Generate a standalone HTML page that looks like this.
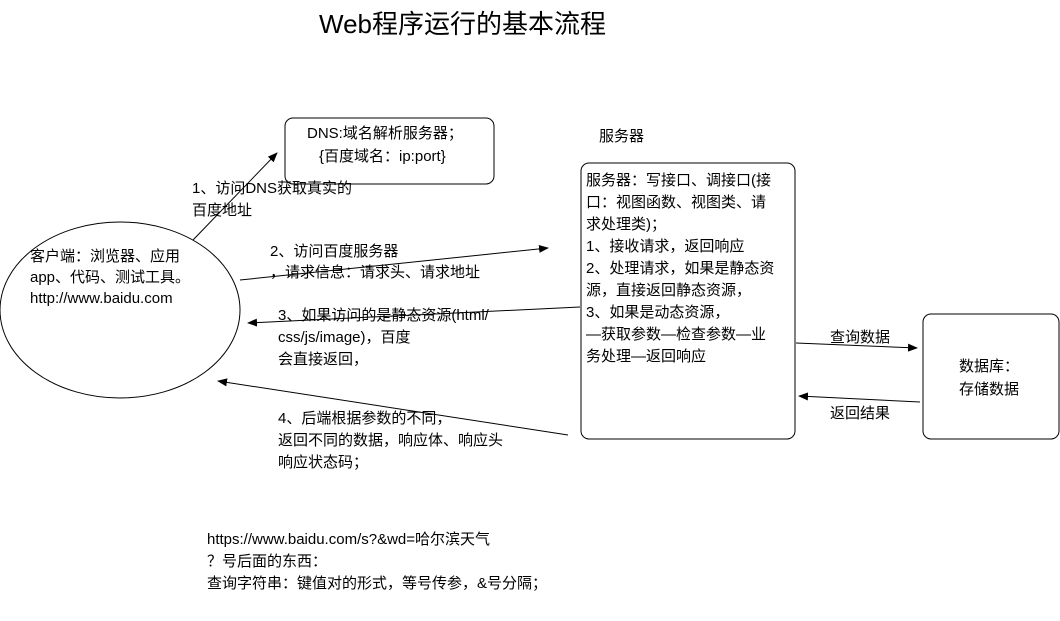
<!DOCTYPE html>
<html><head><meta charset="utf-8"><style>
html,body{margin:0;padding:0;background:#fff;}
svg{display:block;}
text{font-family:"Liberation Sans","Noto Sans CJK SC",sans-serif;font-size:15px;fill:#000;}
</style></head><body>
<svg width="1060" height="621" viewBox="0 0 1060 621" xmlns="http://www.w3.org/2000/svg">
<defs><marker id="a" markerWidth="10" markerHeight="8" refX="9" refY="4" orient="auto" markerUnits="userSpaceOnUse"><path d="M0,0 L10,4 L0,8 z" fill="#000"/></marker></defs>
<text x="319" y="33" style="font-size:26px">Web程序运行的基本流程</text>
<ellipse cx="120" cy="310" rx="120" ry="88" fill="none" stroke="#000" stroke-width="1"/>
<text x="30" y="261">客户端：浏览器、应用</text>
<text x="30" y="282">app、代码、测试工具。</text>
<text x="30" y="303">http://www.baidu.com</text>
<rect x="285" y="118" width="209" height="66" rx="8" fill="none" stroke="#000"/>
<text x="307" y="138">DNS:域名解析服务器；</text>
<text x="319" y="161">{百度域名：ip:port}</text>
<line x1="193" y1="240" x2="277" y2="153" stroke="#000" marker-end="url(#a)"/>
<text x="192" y="193">1、访问DNS获取真实的</text>
<text x="192" y="215">百度地址</text>
<line x1="240" y1="280" x2="548" y2="248" stroke="#000" marker-end="url(#a)"/>
<text x="270" y="256">2、访问百度服务器</text>
<text x="270" y="277">，请求信息：请求头、请求地址</text>
<line x1="580" y1="307" x2="248" y2="323" stroke="#000" marker-end="url(#a)"/>
<text x="278" y="320">3、如果访问的是静态资源(html/</text>
<text x="278" y="342">css/js/image)，百度</text>
<text x="278" y="364">会直接返回，</text>
<line x1="568" y1="435" x2="218" y2="381" stroke="#000" marker-end="url(#a)"/>
<text x="278" y="423">4、后端根据参数的不同，</text>
<text x="278" y="445">返回不同的数据，响应体、响应头</text>
<text x="278" y="467">响应状态码；</text>
<text x="599" y="141">服务器</text>
<rect x="581" y="163" width="214" height="276" rx="8" fill="none" stroke="#000"/>
<text x="586" y="185">服务器：写接口、调接口(接</text>
<text x="586" y="207">口：视图函数、视图类、请</text>
<text x="586" y="229">求处理类)；</text>
<text x="586" y="251">1、接收请求，返回响应</text>
<text x="586" y="273">2、处理请求，如果是静态资</text>
<text x="586" y="295">源，直接返回静态资源，</text>
<text x="586" y="317">3、如果是动态资源，</text>
<text x="586" y="339">—获取参数—检查参数—业</text>
<text x="586" y="361">务处理—返回响应</text>
<rect x="923" y="314" width="136" height="125" rx="8" fill="none" stroke="#000"/>
<text x="959" y="371">数据库：</text>
<text x="959" y="394">存储数据</text>
<line x1="796" y1="343" x2="917" y2="348" stroke="#000" marker-end="url(#a)"/>
<text x="830" y="342">查询数据</text>
<line x1="920" y1="402" x2="799" y2="396" stroke="#000" marker-end="url(#a)"/>
<text x="830" y="418">返回结果</text>
<text x="207" y="544">https://www.baidu.com/s?&amp;wd=哈尔滨天气</text>
<text x="207" y="566">？号后面的东西：</text>
<text x="207" y="588">查询字符串：键值对的形式，等号传参，&amp;号分隔；</text>
</svg>
</body></html>
